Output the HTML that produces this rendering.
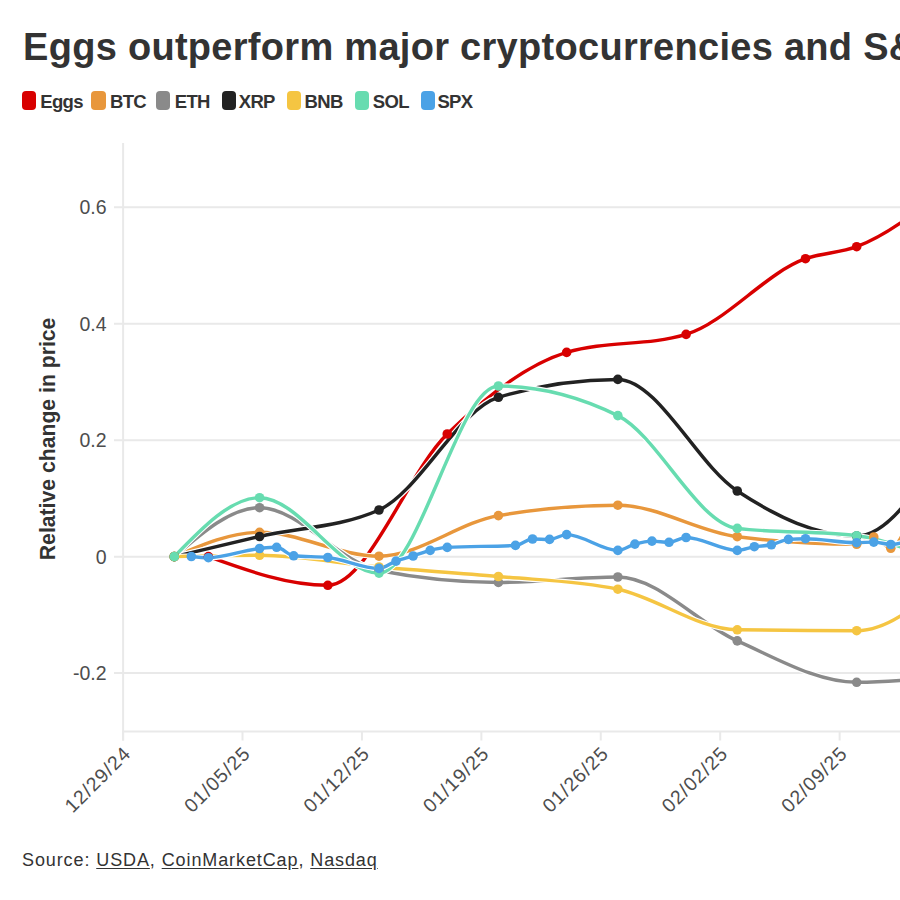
<!DOCTYPE html>
<html><head><meta charset="utf-8"><style>
html,body{margin:0;padding:0;background:#fff;width:900px;height:900px;overflow:hidden;}
body{position:relative;font-family:"Liberation Sans", sans-serif;}
.title{position:absolute;left:23px;top:28px;font-size:38px;font-weight:bold;color:#333;letter-spacing:0.29px;white-space:nowrap;line-height:1;}
.lt{position:absolute;top:91.5px;font-size:18.5px;letter-spacing:-0.7px;font-weight:bold;color:#333;white-space:nowrap;line-height:20px;}
.src{position:absolute;left:22px;top:851px;font-size:18px;color:#333;letter-spacing:0.9px;white-space:nowrap;line-height:1;}
.src u{text-decoration:underline;text-underline-offset:2px;}
svg{position:absolute;left:0;top:0;}
</style></head><body>
<div class="title">Eggs outperform major cryptocurrencies and S&amp;P 500</div>
<div style="position:absolute;left:21.9px;top:90.8px;width:14.2px;height:18.8px;border-radius:4px;background:#d80000"></div><div class="lt" style="left:40.3px">Eggs</div><div style="position:absolute;left:91.4px;top:90.8px;width:14.2px;height:18.8px;border-radius:4px;background:#e8973c"></div><div class="lt" style="left:110px">BTC</div><div style="position:absolute;left:155.9px;top:90.8px;width:14.2px;height:18.8px;border-radius:4px;background:#8a8a8a"></div><div class="lt" style="left:174.8px">ETH</div><div style="position:absolute;left:221.6px;top:90.8px;width:14.2px;height:18.8px;border-radius:4px;background:#222222"></div><div class="lt" style="left:238.8px">XRP</div><div style="position:absolute;left:286.9px;top:90.8px;width:14.2px;height:18.8px;border-radius:4px;background:#f5c542"></div><div class="lt" style="left:304.6px">BNB</div><div style="position:absolute;left:355.1px;top:90.8px;width:14.2px;height:18.8px;border-radius:4px;background:#67dcb0"></div><div class="lt" style="left:372.8px">SOL</div><div style="position:absolute;left:420.7px;top:90.8px;width:14.2px;height:18.8px;border-radius:4px;background:#4ba2e6"></div><div class="lt" style="left:437.4px">SPX</div>
<svg width="900" height="900" viewBox="0 0 900 900" font-family='"Liberation Sans", sans-serif'>
<text transform="translate(55.3,560.2) rotate(-90)" font-size="21.2" font-weight="bold" fill="#333">Relative change in price</text>
<line x1="114" y1="207.30" x2="900" y2="207.30" stroke="#e9e9e9" stroke-width="2"/><text x="106.5" y="214.20" text-anchor="end" font-size="19.5" fill="#4d4d4d">0.6</text><line x1="114" y1="323.75" x2="900" y2="323.75" stroke="#e9e9e9" stroke-width="2"/><text x="106.5" y="330.65" text-anchor="end" font-size="19.5" fill="#4d4d4d">0.4</text><line x1="114" y1="440.20" x2="900" y2="440.20" stroke="#e9e9e9" stroke-width="2"/><text x="106.5" y="447.10" text-anchor="end" font-size="19.5" fill="#4d4d4d">0.2</text><line x1="114" y1="556.65" x2="900" y2="556.65" stroke="#e9e9e9" stroke-width="2"/><text x="106.5" y="563.55" text-anchor="end" font-size="19.5" fill="#4d4d4d">0</text><line x1="114" y1="673.10" x2="900" y2="673.10" stroke="#e9e9e9" stroke-width="2"/><text x="106.5" y="680.00" text-anchor="end" font-size="19.5" fill="#4d4d4d">-0.2</text><line x1="123.1" y1="143" x2="123.1" y2="740.5" stroke="#e9e9e9" stroke-width="2"/><line x1="122" y1="731.6" x2="900" y2="731.6" stroke="#e9e9e9" stroke-width="2"/><line x1="123.10" y1="731" x2="123.10" y2="740.5" stroke="#e9e9e9" stroke-width="2"/><text transform="translate(132.10,754.50) rotate(-45)" text-anchor="end" font-size="19.5" letter-spacing="1.0" fill="#4d4d4d">12/29/24</text><line x1="242.52" y1="731" x2="242.52" y2="740.5" stroke="#e9e9e9" stroke-width="2"/><text transform="translate(251.52,754.50) rotate(-45)" text-anchor="end" font-size="19.5" letter-spacing="1.0" fill="#4d4d4d">01/05/25</text><line x1="361.94" y1="731" x2="361.94" y2="740.5" stroke="#e9e9e9" stroke-width="2"/><text transform="translate(370.94,754.50) rotate(-45)" text-anchor="end" font-size="19.5" letter-spacing="1.0" fill="#4d4d4d">01/12/25</text><line x1="481.36" y1="731" x2="481.36" y2="740.5" stroke="#e9e9e9" stroke-width="2"/><text transform="translate(490.36,754.50) rotate(-45)" text-anchor="end" font-size="19.5" letter-spacing="1.0" fill="#4d4d4d">01/19/25</text><line x1="600.78" y1="731" x2="600.78" y2="740.5" stroke="#e9e9e9" stroke-width="2"/><text transform="translate(609.78,754.50) rotate(-45)" text-anchor="end" font-size="19.5" letter-spacing="1.0" fill="#4d4d4d">01/26/25</text><line x1="720.20" y1="731" x2="720.20" y2="740.5" stroke="#e9e9e9" stroke-width="2"/><text transform="translate(729.20,754.50) rotate(-45)" text-anchor="end" font-size="19.5" letter-spacing="1.0" fill="#4d4d4d">02/02/25</text><line x1="839.62" y1="731" x2="839.62" y2="740.5" stroke="#e9e9e9" stroke-width="2"/><text transform="translate(848.62,754.50) rotate(-45)" text-anchor="end" font-size="19.5" letter-spacing="1.0" fill="#4d4d4d">02/09/25</text><path d="M208.40,556.65C248.21,570.97 288.01,585.30 327.82,585.30C367.63,585.30 407.43,472.82 447.24,434.00C487.05,395.18 526.85,364.40 566.66,352.40C606.47,340.40 646.27,346.40 686.08,334.40C725.89,322.40 765.69,272.80 805.50,258.70C822.56,252.66 839.62,253.16 856.68,246.70C896.49,231.62 936.29,196.41 976.10,161.20" fill="none" stroke="#fff" stroke-width="5.65" stroke-linejoin="round" stroke-linecap="round"/><path d="M208.40,556.65C248.21,570.97 288.01,585.30 327.82,585.30C367.63,585.30 407.43,472.82 447.24,434.00C487.05,395.18 526.85,364.40 566.66,352.40C606.47,340.40 646.27,346.40 686.08,334.40C725.89,322.40 765.69,272.80 805.50,258.70C822.56,252.66 839.62,253.16 856.68,246.70C896.49,231.62 936.29,196.41 976.10,161.20" fill="none" stroke="#d80000" stroke-width="3.45" stroke-linejoin="round" stroke-linecap="round"/><path d="M174.28,556.65C202.71,544.47 231.15,532.30 259.58,532.30C299.39,532.30 339.19,556.20 379.00,556.20C418.81,556.20 458.61,522.53 498.42,515.60C538.23,508.67 578.03,505.20 617.84,505.20C657.65,505.20 697.45,531.63 737.26,536.70C777.07,541.77 816.87,544.30 856.68,544.30C862.37,544.30 868.05,537.00 873.74,537.00C879.43,537.00 885.11,548.30 890.80,548.30C896.49,548.30 902.17,535.70 907.86,523.10" fill="none" stroke="#fff" stroke-width="5.65" stroke-linejoin="round" stroke-linecap="round"/><path d="M174.28,556.65C202.71,544.47 231.15,532.30 259.58,532.30C299.39,532.30 339.19,556.20 379.00,556.20C418.81,556.20 458.61,522.53 498.42,515.60C538.23,508.67 578.03,505.20 617.84,505.20C657.65,505.20 697.45,531.63 737.26,536.70C777.07,541.77 816.87,544.30 856.68,544.30C862.37,544.30 868.05,537.00 873.74,537.00C879.43,537.00 885.11,548.30 890.80,548.30C896.49,548.30 902.17,535.70 907.86,523.10" fill="none" stroke="#e8973c" stroke-width="3.45" stroke-linejoin="round" stroke-linecap="round"/><path d="M174.28,556.65C202.71,532.17 231.15,507.70 259.58,507.70C299.39,507.70 339.19,562.57 379.00,570.50C418.81,578.43 458.61,582.40 498.42,582.40C538.23,582.40 578.03,577.00 617.84,577.00C657.65,577.00 697.45,623.35 737.26,640.90C777.07,658.45 816.87,682.30 856.68,682.30C896.49,682.30 936.29,677.10 976.10,671.90" fill="none" stroke="#fff" stroke-width="5.65" stroke-linejoin="round" stroke-linecap="round"/><path d="M174.28,556.65C202.71,532.17 231.15,507.70 259.58,507.70C299.39,507.70 339.19,562.57 379.00,570.50C418.81,578.43 458.61,582.40 498.42,582.40C538.23,582.40 578.03,577.00 617.84,577.00C657.65,577.00 697.45,623.35 737.26,640.90C777.07,658.45 816.87,682.30 856.68,682.30C896.49,682.30 936.29,677.10 976.10,671.90" fill="none" stroke="#8a8a8a" stroke-width="3.45" stroke-linejoin="round" stroke-linecap="round"/><path d="M174.28,556.65C202.71,549.85 231.15,543.05 259.58,536.50C299.39,527.33 339.19,527.67 379.00,510.00C418.81,492.33 458.61,409.23 498.42,397.30C538.23,385.37 578.03,379.40 617.84,379.40C657.65,379.40 697.45,464.90 737.26,491.00C777.07,517.10 816.87,536.00 856.68,536.00C896.49,536.00 936.29,461.10 976.10,386.20" fill="none" stroke="#fff" stroke-width="5.65" stroke-linejoin="round" stroke-linecap="round"/><path d="M174.28,556.65C202.71,549.85 231.15,543.05 259.58,536.50C299.39,527.33 339.19,527.67 379.00,510.00C418.81,492.33 458.61,409.23 498.42,397.30C538.23,385.37 578.03,379.40 617.84,379.40C657.65,379.40 697.45,464.90 737.26,491.00C777.07,517.10 816.87,536.00 856.68,536.00C896.49,536.00 936.29,461.10 976.10,386.20" fill="none" stroke="#222222" stroke-width="3.45" stroke-linejoin="round" stroke-linecap="round"/><path d="M174.28,556.65C202.71,555.97 231.15,555.30 259.58,555.30C299.39,555.30 339.19,563.47 379.00,567.00C418.81,570.53 458.61,572.80 498.42,576.50C538.23,580.20 578.03,580.73 617.84,589.20C657.65,597.67 697.45,629.20 737.26,629.80C777.07,630.40 816.87,630.70 856.68,630.70C896.49,630.70 936.29,589.20 976.10,547.70" fill="none" stroke="#fff" stroke-width="5.65" stroke-linejoin="round" stroke-linecap="round"/><path d="M174.28,556.65C202.71,555.97 231.15,555.30 259.58,555.30C299.39,555.30 339.19,563.47 379.00,567.00C418.81,570.53 458.61,572.80 498.42,576.50C538.23,580.20 578.03,580.73 617.84,589.20C657.65,597.67 697.45,629.20 737.26,629.80C777.07,630.40 816.87,630.70 856.68,630.70C896.49,630.70 936.29,589.20 976.10,547.70" fill="none" stroke="#f5c542" stroke-width="3.45" stroke-linejoin="round" stroke-linecap="round"/><path d="M174.28,556.65C202.71,527.17 231.15,497.70 259.58,497.70C299.39,497.70 339.19,573.10 379.00,573.10C418.81,573.10 458.61,386.00 498.42,386.00C538.23,386.00 578.03,395.87 617.84,415.60C657.65,435.33 697.45,523.53 737.26,528.40C777.07,533.27 816.87,530.83 856.68,535.70C896.49,540.57 936.29,561.88 976.10,583.20" fill="none" stroke="#fff" stroke-width="5.65" stroke-linejoin="round" stroke-linecap="round"/><path d="M174.28,556.65C202.71,527.17 231.15,497.70 259.58,497.70C299.39,497.70 339.19,573.10 379.00,573.10C418.81,573.10 458.61,386.00 498.42,386.00C538.23,386.00 578.03,395.87 617.84,415.60C657.65,435.33 697.45,523.53 737.26,528.40C777.07,533.27 816.87,530.83 856.68,535.70C896.49,540.57 936.29,561.88 976.10,583.20" fill="none" stroke="#67dcb0" stroke-width="3.45" stroke-linejoin="round" stroke-linecap="round"/><path d="M191.34,556.50C197.03,557.10 202.71,557.70 208.40,557.70C225.46,557.70 242.52,550.17 259.58,548.50C265.27,547.94 270.95,547.30 276.64,547.30C282.33,547.30 288.01,555.23 293.70,555.80C305.07,556.93 316.45,556.37 327.82,557.50C344.88,559.20 361.94,568.40 379.00,568.40C384.69,568.40 390.37,563.17 396.06,561.10C401.75,559.03 407.43,557.78 413.12,556.00C418.81,554.22 424.49,551.83 430.18,550.40C435.87,548.97 441.55,547.73 447.24,547.40C469.99,546.07 492.73,546.73 515.48,545.40C521.17,545.07 526.85,539.00 532.54,539.00C538.23,539.00 543.91,539.40 549.60,539.40C555.29,539.40 560.97,534.60 566.66,534.60C583.72,534.60 600.78,550.40 617.84,550.40C623.53,550.40 629.21,545.65 634.90,544.10C640.59,542.55 646.27,541.10 651.96,541.10C657.65,541.10 663.33,542.30 669.02,542.30C674.71,542.30 680.39,537.50 686.08,537.50C703.14,537.50 720.20,550.40 737.26,550.40C742.95,550.40 748.63,547.63 754.32,546.70C760.01,545.77 765.69,546.02 771.38,544.80C777.07,543.58 782.75,539.87 788.44,539.40C794.13,538.93 799.81,538.70 805.50,538.70C822.56,538.70 839.62,542.70 856.68,542.70C862.37,542.70 868.05,542.10 873.74,542.10C879.43,542.10 885.11,544.50 890.80,544.50C896.49,544.50 902.17,542.80 907.86,541.10" fill="none" stroke="#fff" stroke-width="5.65" stroke-linejoin="round" stroke-linecap="round"/><path d="M191.34,556.50C197.03,557.10 202.71,557.70 208.40,557.70C225.46,557.70 242.52,550.17 259.58,548.50C265.27,547.94 270.95,547.30 276.64,547.30C282.33,547.30 288.01,555.23 293.70,555.80C305.07,556.93 316.45,556.37 327.82,557.50C344.88,559.20 361.94,568.40 379.00,568.40C384.69,568.40 390.37,563.17 396.06,561.10C401.75,559.03 407.43,557.78 413.12,556.00C418.81,554.22 424.49,551.83 430.18,550.40C435.87,548.97 441.55,547.73 447.24,547.40C469.99,546.07 492.73,546.73 515.48,545.40C521.17,545.07 526.85,539.00 532.54,539.00C538.23,539.00 543.91,539.40 549.60,539.40C555.29,539.40 560.97,534.60 566.66,534.60C583.72,534.60 600.78,550.40 617.84,550.40C623.53,550.40 629.21,545.65 634.90,544.10C640.59,542.55 646.27,541.10 651.96,541.10C657.65,541.10 663.33,542.30 669.02,542.30C674.71,542.30 680.39,537.50 686.08,537.50C703.14,537.50 720.20,550.40 737.26,550.40C742.95,550.40 748.63,547.63 754.32,546.70C760.01,545.77 765.69,546.02 771.38,544.80C777.07,543.58 782.75,539.87 788.44,539.40C794.13,538.93 799.81,538.70 805.50,538.70C822.56,538.70 839.62,542.70 856.68,542.70C862.37,542.70 868.05,542.10 873.74,542.10C879.43,542.10 885.11,544.50 890.80,544.50C896.49,544.50 902.17,542.80 907.86,541.10" fill="none" stroke="#4ba2e6" stroke-width="3.45" stroke-linejoin="round" stroke-linecap="round"/><circle cx="208.40" cy="556.65" r="4.8" fill="#d80000"/><circle cx="327.82" cy="585.30" r="4.8" fill="#d80000"/><circle cx="447.24" cy="434.00" r="4.8" fill="#d80000"/><circle cx="566.66" cy="352.40" r="4.8" fill="#d80000"/><circle cx="686.08" cy="334.40" r="4.8" fill="#d80000"/><circle cx="805.50" cy="258.70" r="4.8" fill="#d80000"/><circle cx="856.68" cy="246.70" r="4.8" fill="#d80000"/><circle cx="174.28" cy="556.65" r="4.8" fill="#e8973c"/><circle cx="259.58" cy="532.30" r="4.8" fill="#e8973c"/><circle cx="379.00" cy="556.20" r="4.8" fill="#e8973c"/><circle cx="498.42" cy="515.60" r="4.8" fill="#e8973c"/><circle cx="617.84" cy="505.20" r="4.8" fill="#e8973c"/><circle cx="737.26" cy="536.70" r="4.8" fill="#e8973c"/><circle cx="856.68" cy="544.30" r="4.8" fill="#e8973c"/><circle cx="873.74" cy="537.00" r="4.8" fill="#e8973c"/><circle cx="890.80" cy="548.30" r="4.8" fill="#e8973c"/><circle cx="174.28" cy="556.65" r="4.8" fill="#8a8a8a"/><circle cx="259.58" cy="507.70" r="4.8" fill="#8a8a8a"/><circle cx="379.00" cy="570.50" r="4.8" fill="#8a8a8a"/><circle cx="498.42" cy="582.40" r="4.8" fill="#8a8a8a"/><circle cx="617.84" cy="577.00" r="4.8" fill="#8a8a8a"/><circle cx="737.26" cy="640.90" r="4.8" fill="#8a8a8a"/><circle cx="856.68" cy="682.30" r="4.8" fill="#8a8a8a"/><circle cx="174.28" cy="556.65" r="4.8" fill="#222222"/><circle cx="259.58" cy="536.50" r="4.8" fill="#222222"/><circle cx="379.00" cy="510.00" r="4.8" fill="#222222"/><circle cx="498.42" cy="397.30" r="4.8" fill="#222222"/><circle cx="617.84" cy="379.40" r="4.8" fill="#222222"/><circle cx="737.26" cy="491.00" r="4.8" fill="#222222"/><circle cx="856.68" cy="536.00" r="4.8" fill="#222222"/><circle cx="174.28" cy="556.65" r="4.8" fill="#f5c542"/><circle cx="259.58" cy="555.30" r="4.8" fill="#f5c542"/><circle cx="379.00" cy="567.00" r="4.8" fill="#f5c542"/><circle cx="498.42" cy="576.50" r="4.8" fill="#f5c542"/><circle cx="617.84" cy="589.20" r="4.8" fill="#f5c542"/><circle cx="737.26" cy="629.80" r="4.8" fill="#f5c542"/><circle cx="856.68" cy="630.70" r="4.8" fill="#f5c542"/><circle cx="174.28" cy="556.65" r="4.8" fill="#67dcb0"/><circle cx="259.58" cy="497.70" r="4.8" fill="#67dcb0"/><circle cx="379.00" cy="573.10" r="4.8" fill="#67dcb0"/><circle cx="498.42" cy="386.00" r="4.8" fill="#67dcb0"/><circle cx="617.84" cy="415.60" r="4.8" fill="#67dcb0"/><circle cx="737.26" cy="528.40" r="4.8" fill="#67dcb0"/><circle cx="856.68" cy="535.70" r="4.8" fill="#67dcb0"/><circle cx="191.34" cy="556.50" r="4.8" fill="#4ba2e6"/><circle cx="208.40" cy="557.70" r="4.8" fill="#4ba2e6"/><circle cx="259.58" cy="548.50" r="4.8" fill="#4ba2e6"/><circle cx="276.64" cy="547.30" r="4.8" fill="#4ba2e6"/><circle cx="293.70" cy="555.80" r="4.8" fill="#4ba2e6"/><circle cx="327.82" cy="557.50" r="4.8" fill="#4ba2e6"/><circle cx="379.00" cy="568.40" r="4.8" fill="#4ba2e6"/><circle cx="396.06" cy="561.10" r="4.8" fill="#4ba2e6"/><circle cx="413.12" cy="556.00" r="4.8" fill="#4ba2e6"/><circle cx="430.18" cy="550.40" r="4.8" fill="#4ba2e6"/><circle cx="447.24" cy="547.40" r="4.8" fill="#4ba2e6"/><circle cx="515.48" cy="545.40" r="4.8" fill="#4ba2e6"/><circle cx="532.54" cy="539.00" r="4.8" fill="#4ba2e6"/><circle cx="549.60" cy="539.40" r="4.8" fill="#4ba2e6"/><circle cx="566.66" cy="534.60" r="4.8" fill="#4ba2e6"/><circle cx="617.84" cy="550.40" r="4.8" fill="#4ba2e6"/><circle cx="634.90" cy="544.10" r="4.8" fill="#4ba2e6"/><circle cx="651.96" cy="541.10" r="4.8" fill="#4ba2e6"/><circle cx="669.02" cy="542.30" r="4.8" fill="#4ba2e6"/><circle cx="686.08" cy="537.50" r="4.8" fill="#4ba2e6"/><circle cx="737.26" cy="550.40" r="4.8" fill="#4ba2e6"/><circle cx="754.32" cy="546.70" r="4.8" fill="#4ba2e6"/><circle cx="771.38" cy="544.80" r="4.8" fill="#4ba2e6"/><circle cx="788.44" cy="539.40" r="4.8" fill="#4ba2e6"/><circle cx="805.50" cy="538.70" r="4.8" fill="#4ba2e6"/><circle cx="856.68" cy="542.70" r="4.8" fill="#4ba2e6"/><circle cx="873.74" cy="542.10" r="4.8" fill="#4ba2e6"/><circle cx="890.80" cy="544.50" r="4.8" fill="#4ba2e6"/>
</svg>
<div class="src">Source: <u>USDA</u>, <u>CoinMarketCap</u>, <u>Nasdaq</u></div>
</body></html>
